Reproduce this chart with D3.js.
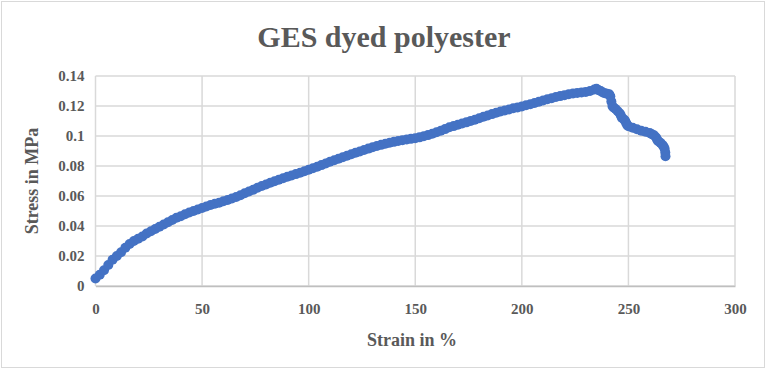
<!DOCTYPE html>
<html>
<head>
<meta charset="utf-8">
<script src="https://cdn.jsdelivr.net/npm/d3@7"></script>
<style>
	body { margin: 0; background: #fff; }
	svg text { font-family: "Liberation Serif", "Times New Roman", serif; font-weight: bold; fill: #595959; }
</style>
</head>
<body>
<svg id="chart" width="767" height="371"></svg>
<script>
// strain (%) and stress (MPa)
const strain = [
	0, 2, 4, 6, 8, 10, 12, 14, 16, 18, 20, 22, 24, 26, 28, 30, 32, 34, 36, 38,
	40, 42, 44, 46, 48, 50, 52, 54, 56, 58, 60, 62, 64, 66, 68, 70, 72, 74, 76, 78,
	80, 82, 84, 86, 88, 90, 92, 94, 96, 98, 100, 102, 104, 106, 108, 110, 112, 114, 116, 118,
	120, 122, 124, 126, 128, 130, 132, 134, 136, 138, 140, 142, 144, 146, 148, 150, 152, 154, 156, 158,
	160, 162, 164, 166, 168, 170, 172, 174, 176, 178, 180, 182, 184, 186, 188, 190, 192, 194, 196, 198,
	200, 202, 204, 206, 208, 210, 212, 214, 216, 218, 220, 222, 224, 226, 228, 230, 232, 234, 235, 236,
	237, 238, 239, 240, 241, 241.5, 242, 242.5, 243, 244, 245, 246, 246.5, 247, 248, 248.5, 249, 249.5, 250, 252,
	254, 256, 258, 260, 261, 262, 263, 263.5, 264, 265, 266, 266.5, 267, 267.3, 267.4
];
const stress = [
	0.0050, 0.0075, 0.0105, 0.0140, 0.0175, 0.0200, 0.0225, 0.0255, 0.0280, 0.0300,
	0.0315, 0.0330, 0.0350, 0.0365, 0.0380, 0.0395, 0.0410, 0.0425, 0.0440, 0.0455,
	0.0465, 0.0478, 0.0490, 0.0500, 0.0510, 0.0520, 0.0530, 0.0540, 0.0548, 0.0555,
	0.0565, 0.0573, 0.0583, 0.0593, 0.0605, 0.0618, 0.0630, 0.0642, 0.0655, 0.0667,
	0.0677, 0.0688, 0.0698, 0.0708, 0.0718, 0.0728, 0.0737, 0.0746, 0.0755, 0.0765,
	0.0775, 0.0785, 0.0795, 0.0806, 0.0817, 0.0828, 0.0838, 0.0848, 0.0858, 0.0868,
	0.0878, 0.0888, 0.0897, 0.0907, 0.0916, 0.0925, 0.0933, 0.0941, 0.0948, 0.0955,
	0.0961, 0.0967, 0.0972, 0.0977, 0.0981, 0.0985, 0.0991, 0.0998, 0.1006, 0.1015,
	0.1025, 0.1035, 0.1046, 0.1058, 0.1066, 0.1075, 0.1083, 0.1091, 0.1100, 0.1108,
	0.1118, 0.1128, 0.1137, 0.1146, 0.1155, 0.1163, 0.1170, 0.1177, 0.1185, 0.1190,
	0.1197, 0.1205, 0.1212, 0.1220, 0.1228, 0.1237, 0.1245, 0.1252, 0.1260, 0.1266,
	0.1272, 0.1278, 0.1283, 0.1287, 0.1290, 0.1294, 0.1300, 0.1310, 0.1315, 0.1305,
	0.1300, 0.1290, 0.1285, 0.1282, 0.1278, 0.1265, 0.1230, 0.1200, 0.1190, 0.1180,
	0.1165, 0.1150, 0.1135, 0.1120, 0.1110, 0.1100, 0.1085, 0.1072, 0.1065, 0.1055,
	0.1045, 0.1035, 0.1028, 0.1020, 0.1012, 0.1005, 0.0990, 0.0975, 0.0965, 0.0955,
	0.0940, 0.0930, 0.0915, 0.0890, 0.0865
];
const xTicks = [0, 50, 100, 150, 200, 250, 300];
const yTicks = [0, 0.02, 0.04, 0.06, 0.08, 0.1, 0.12, 0.14];
const yTickLabels = ["0", "0.02", "0.04", "0.06", "0.08", "0.1", "0.12", "0.14"];

const svg = d3.select("#chart");

// outer chart border
svg.append("rect")
	.attr("x", 1.5).attr("y", 1.5)
	.attr("width", 763).attr("height", 366)
	.attr("fill", "#fff")
	.attr("stroke", "#d9d9d9");

const x = d3.scaleLinear().domain([0, 300]).range([95.5, 735]);
const y = d3.scaleLinear().domain([0, 0.14]).range([286, 76]);

// gridlines
const grid = svg.append("g").attr("class", "grid");
grid.selectAll("line.h")
	.data(yTicks)
	.enter().append("line")
	.attr("class", "h")
	.attr("x1", x(0)).attr("x2", x(300))
	.attr("y1", d => y(d)).attr("y2", d => y(d))
	.attr("stroke", "#d9d9d9")
	.attr("stroke-width", 1.5);
grid.selectAll("line.v")
	.data(xTicks)
	.enter().append("line")
	.attr("class", "v")
	.attr("x1", d => x(d)).attr("x2", d => x(d))
	.attr("y1", y(0)).attr("y2", y(0.14))
	.attr("stroke", "#d9d9d9")
	.attr("stroke-width", 1.5);

// axes (labels only, lines come from the grid)
const xAxis = d3.axisBottom(x).tickValues(xTicks).tickSize(0).tickPadding(17);
const yAxis = d3.axisLeft(y).tickValues(yTicks).tickSize(0).tickPadding(11)
	.tickFormat((d, i) => yTickLabels[i]);

svg.append("g")
	.attr("transform", "translate(0," + y(0) + ")")
	.call(xAxis)
	.call(g => g.select(".domain").attr("stroke", "#bfbfbf").attr("stroke-width", 1.5))
	.selectAll("text")
	.style("font-size", "15px")
	.style("font-family", "'Liberation Serif', serif")
	.attr("fill", "#595959");

svg.append("g")
	.attr("transform", "translate(" + x(0) + ",0)")
	.call(yAxis)
	.call(g => g.select(".domain").remove())
	.selectAll("text")
	.style("font-size", "15px")
	.style("font-family", "'Liberation Serif', serif")
	.attr("fill", "#595959");

// data markers
const points = strain.map((s, i) => ({ s: s, v: stress[i] }));
svg.append("g")
	.selectAll("circle")
	.data(points)
	.enter().append("circle")
	.attr("cx", d => x(d.s))
	.attr("cy", d => y(d.v))
	.attr("r", 5)
	.attr("fill", "#4472c4");

// titles
svg.append("text")
	.attr("x", 384)
	.attr("y", 47)
	.attr("text-anchor", "middle")
	.style("font-size", "30px")
	.text("GES dyed polyester");

svg.append("text")
	.attr("x", 412)
	.attr("y", 346)
	.attr("text-anchor", "middle")
	.style("font-size", "18px")
	.text("Strain in %");

svg.append("text")
	.attr("transform", "translate(38,181) rotate(-90)")
	.attr("text-anchor", "middle")
	.style("font-size", "18px")
	.text("Stress in MPa");
</script>
</body>
</html>
